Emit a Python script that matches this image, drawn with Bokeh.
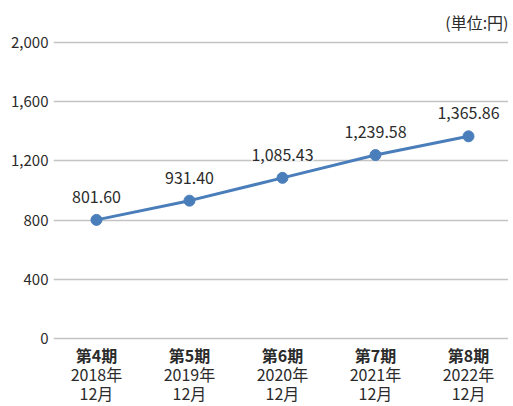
from bokeh.plotting import figure
from bokeh.models import Range1d, LinearAxis, FixedTicker, ColumnDataSource, Title
from bokeh.core.properties import value
from bokeh.embed import file_html
from bokeh.resources import INLINE

periods = ["第4期", "第5期", "第6期", "第7期", "第8期"]
dates = ["2018年\n12月", "2019年\n12月", "2020年\n12月", "2021年\n12月", "2022年\n12月"]
values = [801.60, 931.40, 1085.43, 1239.58, 1365.86]
y_ticks = [0, 400, 800, 1200, 1600, 2000]
unit_label = "(単位:円)"

FONT = "Noto Sans CJK JP"
TXT = "#2b2b2b"
BLUE = "#4A7EBB"

xs = list(range(len(values)))
src = ColumnDataSource(dict(x=xs, y=values, lab=["{:,.2f}".format(v) for v in values]))

p = figure(frame_width=455, frame_height=300, output_backend="svg", toolbar_location=None,
           x_range=Range1d(-0.462, 4.43), y_range=Range1d(-13, 2013),
           min_border_left=53, min_border_right=0, min_border_top=0, min_border_bottom=0)
p.outline_line_color = None
p.background_fill_color = "white"

t = Title(text=unit_label, align="right", text_font=FONT, text_font_size="16px",
          text_font_style="normal", text_color=TXT, standoff=14)
p.add_layout(t, "above")

p.ygrid.grid_line_color = "#C4C4C4"
p.ygrid.grid_line_width = 1.5
p.xgrid.grid_line_color = None

p.yaxis.ticker = FixedTicker(ticks=y_ticks)
p.yaxis.major_label_overrides = {v: "{:,}".format(v) for v in y_ticks}
p.yaxis.axis_line_color = None
p.yaxis.major_tick_line_color = None
p.yaxis.minor_tick_line_color = None
p.yaxis.major_tick_out = 0
p.yaxis.major_label_standoff = 5
p.yaxis.major_label_text_font = FONT
p.yaxis.major_label_text_font_size = "15px"
p.yaxis.major_label_text_color = TXT

xa = p.xaxis[0]
xa.ticker = FixedTicker(ticks=xs)
xa.major_label_overrides = {i: s for i, s in enumerate(periods)}
xa.axis_line_color = None
xa.major_tick_line_color = None
xa.minor_tick_line_color = None
xa.major_tick_out = 0
xa.major_label_standoff = 2
xa.major_label_text_font = FONT
xa.major_label_text_font_size = "16px"
xa.major_label_text_font_style = "bold"
xa.major_label_text_color = TXT

xb = LinearAxis(ticker=FixedTicker(ticks=xs),
                major_label_overrides={i: s for i, s in enumerate(dates)})
xb.axis_line_color = None
xb.major_tick_line_color = None
xb.minor_tick_line_color = None
xb.major_tick_out = 0
xb.major_label_standoff = -8
xb.major_label_text_font = FONT
xb.major_label_text_font_size = "16px"
xb.major_label_text_color = TXT
xb.major_label_text_line_height = 0.8
p.add_layout(xb, "below")

p.line("x", "y", source=src, line_color=BLUE, line_width=3)
p.scatter("x", "y", source=src, size=11, fill_color=BLUE, line_color=BLUE)
p.text("x", "y", text="lab", source=src, text_font=value(FONT), text_font_size="16px",
       text_color=TXT, text_align="center", text_baseline="middle", y_offset=-23,
       background_fill_color="white")

open("out.html", "w").write(file_html(p, INLINE))
